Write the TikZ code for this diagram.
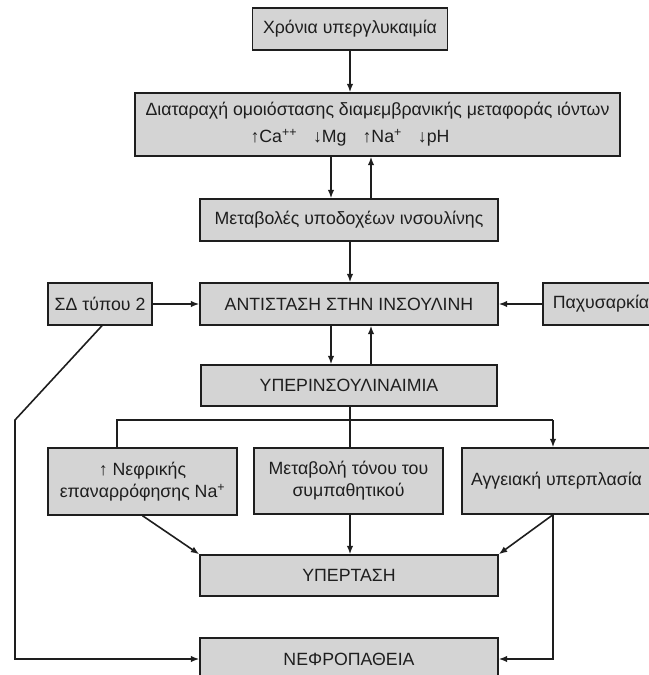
\documentclass[tikz,border=0pt]{standalone}
\usepackage{fontspec}
\setmainfont{Liberation Sans}
\usetikzlibrary{arrows.meta,calc}
\definecolor{boxgray}{RGB}{212,212,212}
\definecolor{inkc}{RGB}{30,30,30}
\begin{document}
\begin{tikzpicture}[x=1bp,y=-1bp,
  box/.style={draw=inkc, fill=boxgray, line width=1.4bp, inner sep=0pt, align=center,
              font=\fontsize{17.8}{22}\selectfont, text=inkc},
  txt/.style={inner sep=0pt, font=\fontsize{17.8}{22}\selectfont, text=inkc},
  arr/.style={draw=inkc, line width=1.6bp, -{Latex[length=8.5bp,width=6.5bp]}},
  ln/.style={draw=inkc, line width=1.6bp}]
\useasboundingbox (0,0) rectangle (649,675);
\clip (0,0) rectangle (649,675);

% boxes
\node[box, minimum width=195bp, minimum height=42bp] (b1) at (350,29) {Χρόνια υπεργλυκαιμία};
\node[box, minimum width=485bp, minimum height=63bp] (b2) at (377.5,124.5) {};
\node[txt] (b2a) at (377.5,111) {Διαταραχή ομοιόστασης διαμεμβρανικής μεταφοράς ιόντων};
\node[txt] (b2b) at (350,138) {↑Ca\textsuperscript{++}\hspace{16bp}↓Mg\hspace{16bp}↑Na\textsuperscript{+}\hspace{16bp}↓pH};
\node[box, minimum width=298bp, minimum height=42bp] (b3) at (349,220) {Μεταβολές υποδοχέων ινσουλίνης};
\node[box, minimum width=298bp, minimum height=42bp] (b4) at (349,304) {ΑΝΤΙΣΤΑΣΗ ΣΤΗΝ ΙΝΣΟΥΛΙΝΗ};
\node[box, minimum width=104bp, minimum height=42bp] (sd) at (100,304) {ΣΔ τύπου 2};
\node[box, minimum width=116bp, minimum height=42bp] (pax) at (601,304) {Παχυσαρκία};
\node[box, minimum width=296bp, minimum height=41bp] (b5) at (349,385.5) {ΥΠΕΡΙΝΣΟΥΛΙΝΑΙΜΙΑ};
\node[box, minimum width=189bp, minimum height=67bp] (L) at (142.5,481.5) {↑ Νεφρικής\\επαναρρόφησης Na\textsuperscript{+}};
\node[box, minimum width=189bp, minimum height=66bp] (M) at (348.5,481) {Μεταβολή τόνου του\\συμπαθητικού};
\node[box, minimum width=189bp, minimum height=66bp] (R) at (556.5,481) {Αγγειακή υπερπλασία};
\node[box, minimum width=298bp, minimum height=41bp] (b6) at (349,575.5) {ΥΠΕΡΤΑΣΗ};
\node[box, minimum width=298bp, minimum height=42bp] (b7) at (349,659) {ΝΕΦΡΟΠΑΘΕΙΑ};

% helper coordinates
\coordinate (xc) at (350,0);
\coordinate (xl) at (331,0);
\coordinate (xr) at (371,0);
\coordinate (brL) at (117,420);
\coordinate (brR) at (553,420);
\coordinate (cornerL) at (15,420);

% connectors
\draw[arr] (b1.south -| xc) -- (b2.north -| xc);
\draw[arr] (b2.south -| xl) -- (b3.north -| xl);
\draw[arr] (b3.north -| xr) -- (b2.south -| xr);
\draw[arr] (b3.south -| xc) -- (b4.north -| xc);
\draw[arr] (sd.east) -- (b4.west);
\draw[arr] (pax.west) -- (b4.east);
\draw[arr] (b4.south -| xl) -- (b5.north -| xl);
\draw[arr] (b5.north -| xr) -- (b4.south -| xr);
\draw[ln] (b5.south -| xc) -- (M.north -| xc);
\draw[ln] (L.north -| brL) -- (brL) -- (brR);
\draw[arr] (brR) -- (R.north -| brR);
\draw[arr] (L.south) -- (b6.north west);
\draw[arr] (M.south -| xc) -- (b6.north -| xc);
\draw[arr] (R.south -| brR) -- (b6.north east);
\draw[arr] (R.south -| brR) -- (brR |- b7.east) -- (b7.east);
\draw[arr] ([xshift=2bp]sd.south) -- (cornerL) -- (cornerL |- b7.west) -- (b7.west);
\end{tikzpicture}
\end{document}
